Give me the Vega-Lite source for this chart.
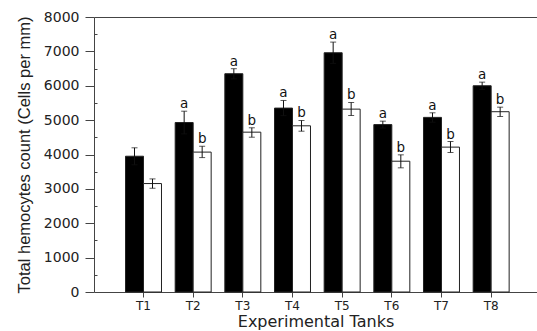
{
  "$schema": "https://vega.github.io/schema/vega-lite/v6.json",
  "width": 443,
  "height": 275,
  "autosize": {"type": "none"},
  "padding": {"left": 94, "top": 17, "right": 0, "bottom": 39},
  "background": "white",
  "config": {
    "view": {"stroke": null},
    "axis": {
      "grid": false,
      "domainColor": "#444",
      "tickColor": "#444",
      "labelColor": "#222",
      "titleColor": "#222",
      "domainWidth": 1,
      "tickWidth": 1,
      "labelFont": "DejaVu Sans",
      "titleFontWeight": "normal"
    }
  },
  "data": {
    "values": [
      {"tank": "T1", "series": "A", "mean": 3950, "low": 3700, "high": 4195, "letter": ""},
      {"tank": "T1", "series": "B", "mean": 3155, "low": 3018, "high": 3290, "letter": ""},
      {"tank": "T2", "series": "A", "mean": 4930, "low": 4600, "high": 5260, "letter": "a"},
      {"tank": "T2", "series": "B", "mean": 4070, "low": 3910, "high": 4240, "letter": "b"},
      {"tank": "T3", "series": "A", "mean": 6350, "low": 6200, "high": 6496, "letter": "a"},
      {"tank": "T3", "series": "B", "mean": 4650, "low": 4503, "high": 4777, "letter": "b"},
      {"tank": "T4", "series": "A", "mean": 5350, "low": 5130, "high": 5572, "letter": "a"},
      {"tank": "T4", "series": "B", "mean": 4835, "low": 4678, "high": 4990, "letter": "b"},
      {"tank": "T5", "series": "A", "mean": 6960, "low": 6650, "high": 7270, "letter": "a"},
      {"tank": "T5", "series": "B", "mean": 5320, "low": 5135, "high": 5514, "letter": "b"},
      {"tank": "T6", "series": "A", "mean": 4870, "low": 4770, "high": 4970, "letter": "a"},
      {"tank": "T6", "series": "B", "mean": 3805, "low": 3612, "high": 3990, "letter": "b"},
      {"tank": "T7", "series": "A", "mean": 5080, "low": 4940, "high": 5213, "letter": "a"},
      {"tank": "T7", "series": "B", "mean": 4215, "low": 4058, "high": 4378, "letter": "b"},
      {"tank": "T8", "series": "A", "mean": 6000, "low": 5895, "high": 6105, "letter": "a"},
      {"tank": "T8", "series": "B", "mean": 5245, "low": 5106, "high": 5377, "letter": "b"}
    ]
  },
  "resolve": {"axis": {"x": "independent", "y": "independent"}},
  "layer": [
    {
      "mark": {"type": "bar", "stroke": "#222", "strokeWidth": 1},
      "encoding": {
        "x": {
          "field": "tank", "type": "nominal",
          "scale": {"paddingInner": 0, "paddingOuter": 0.46, "align": 0.54},
          "axis": {"orient": "bottom", "labelAngle": 0, "labelFontSize": 12, "tickSize": 5, "labelPadding": 3,
                   "title": "Experimental Tanks", "titleFont": "DejaVu Sans", "titleFontSize": 16, "titlePadding": 2}
        },
        "xOffset": {"field": "series", "type": "nominal", "scale": {"paddingInner": 0, "paddingOuter": 0.38}},
        "y": {
          "field": "mean", "type": "quantitative",
          "scale": {"domain": [0, 8000], "nice": false},
          "axis": {"orient": "left", "values": [0, 1000, 2000, 3000, 4000, 5000, 6000, 7000, 8000], "format": "d",
                   "labelFontSize": 14, "tickSize": 9, "labelPadding": 6,
                   "title": "Total hemocytes count (Cells per mm)", "titleFont": "Liberation Sans",
                   "titleFontSize": 16.5, "titlePadding": 11}
        },
        "fill": {"field": "series", "type": "nominal", "scale": {"range": ["#000000", "#ffffff"]}, "legend": null}
      }
    },
    {
      "mark": {"type": "rule", "color": "#111", "strokeWidth": 1},
      "encoding": {
        "x": {"field": "tank", "type": "nominal", "axis": null},
        "xOffset": {"field": "series", "type": "nominal"},
        "y": {"field": "low", "type": "quantitative", "axis": null},
        "y2": {"field": "high"}
      }
    },
    {
      "mark": {"type": "tick", "color": "#111", "size": 6, "thickness": 1},
      "encoding": {
        "x": {"field": "tank", "type": "nominal",
              "axis": {"orient": "top", "labels": false, "ticks": false, "domain": true, "title": null}},
        "xOffset": {"field": "series", "type": "nominal"},
        "y": {"field": "high", "type": "quantitative",
              "axis": {"orient": "left", "values": [500, 1500, 2500, 3500, 4500, 5500, 6500, 7500],
                       "labels": false, "domain": false, "tickSize": -3, "title": null}}
      }
    },
    {
      "mark": {"type": "tick", "color": "#111", "size": 6, "thickness": 1},
      "encoding": {
        "x": {"field": "tank", "type": "nominal", "axis": null},
        "xOffset": {"field": "series", "type": "nominal"},
        "y": {"field": "low", "type": "quantitative", "axis": null}
      }
    },
    {
      "mark": {"type": "text", "font": "DejaVu Sans", "fontSize": 13.5, "baseline": "alphabetic", "dy": -3, "color": "#111"},
      "encoding": {
        "x": {"field": "tank", "type": "nominal", "axis": null},
        "xOffset": {"field": "series", "type": "nominal"},
        "y": {"field": "high", "type": "quantitative", "axis": null},
        "text": {"field": "letter"}
      }
    }
  ]
}
